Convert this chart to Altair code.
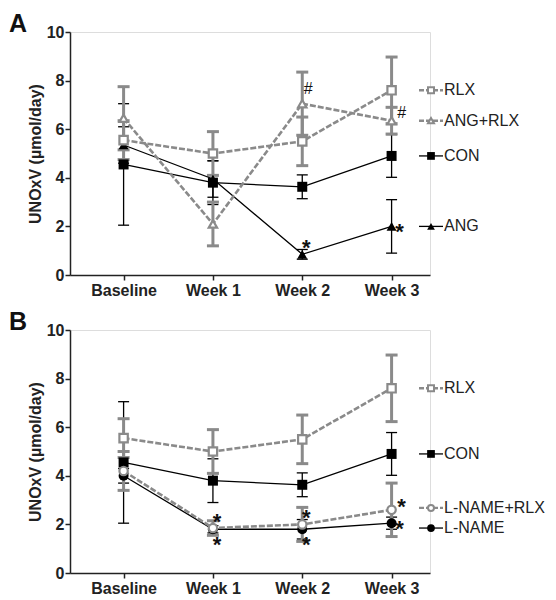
import altair as alt
import pandas as pd

# ---------------- data ----------------
WEEKS = ["Baseline", "Week 1", "Week 2", "Week 3"]

RLX_MEAN = [5.55, 5.0, 5.5, 7.6]
RLX_SEM = [0.8, 0.9, 1.0, 1.37]
ANG_RLX_MEAN = [6.45, 2.1, 7.05, 6.35]
ANG_RLX_SEM = [1.3, 0.9, 1.3, 0.55]
CON_MEAN = [4.55, 3.8, 3.63, 4.9]
CON_SEM = [2.5, 0.9, 0.49, 0.88]
ANG_MEAN = [5.35, 3.95, 0.85, 2.0]
ANG_SEM = [0.75, 0.75, 0.2, 1.1]
LNAME_RLX_MEAN = [4.2, 1.85, 2.0, 2.6]
LNAME_RLX_SEM = [0.8, 0.3, 0.7, 1.1]
LNAME_MEAN = [4.0, 1.8, 1.8, 2.05]
LNAME_SEM = [0.3, 0.15, 0.4, 0.25]

SERIES_VALUES = {
    "RLX": (RLX_MEAN, RLX_SEM),
    "ANG+RLX": (ANG_RLX_MEAN, ANG_RLX_SEM),
    "CON": (CON_MEAN, CON_SEM),
    "ANG": (ANG_MEAN, ANG_SEM),
    "L-NAME+RLX": (LNAME_RLX_MEAN, LNAME_RLX_SEM),
    "L-NAME": (LNAME_MEAN, LNAME_SEM),
}

PANEL_A_SERIES = ["RLX", "ANG+RLX", "CON", "ANG"]
PANEL_B_SERIES = ["RLX", "CON", "L-NAME+RLX", "L-NAME"]

# (series, week, symbol, placement)
ANNOT_A = [("ANG+RLX", "Week 2", "#", "above_far"), ("ANG+RLX", "Week 3", "#", "right_up"),
           ("ANG", "Week 2", "*", "above"), ("ANG", "Week 3", "*", "right")]
ANNOT_B = [("L-NAME+RLX", "Week 1", "*", "above"), ("L-NAME", "Week 1", "*", "below"),
           ("L-NAME+RLX", "Week 2", "*", "above"), ("L-NAME", "Week 2", "*", "below"),
           ("L-NAME+RLX", "Week 3", "*", "right_up"), ("L-NAME", "Week 3", "*", "right")]

# ---------------- styles ----------------
GRAY = "#8a8a8a"
FONT = "Liberation Sans"
GROUP = {"RLX": "gray", "ANG+RLX": "gray", "L-NAME+RLX": "gray",
         "CON": "black", "ANG": "black", "L-NAME": "black"}
SHAPE = {"RLX": "square", "ANG+RLX": "triangle-up", "L-NAME+RLX": "circle",
         "CON": "square", "ANG": "triangle-up", "L-NAME": "circle"}
LEGEND_NUDGE = {"L-NAME+RLX": 0.08, "L-NAME": -0.2}
PLACE_OFFSETS = {"above": (4, -12), "above_far": (6, -16), "right": (8, 0),
                 "right_up": (10, -9), "below": (4, 10)}
# font size, weight, glyph-centre compensation
SYMBOL_STYLE = {"*": (22, "bold", 6), "#": (16, "normal", 1)}

ALL = list(SERIES_VALUES.keys())
shape_scale = alt.Scale(domain=ALL, range=[SHAPE[s] for s in ALL])

W, H = 360, 243


def panel(letter, series_list, annots):
    rows = []
    for s in series_list:
        m, e = SERIES_VALUES[s]
        for i, w in enumerate(WEEKS):
            rows.append({"series": s, "group": GROUP[s], "xi": i, "week": w,
                         "mean": m[i], "lo": m[i] - e[i], "hi": m[i] + e[i]})
    df = pd.DataFrame(rows)

    leg = pd.DataFrame([{"series": s, "group": GROUP[s],
                         "ly": SERIES_VALUES[s][0][-1] + LEGEND_NUDGE.get(s, 0.0)}
                        for s in series_list])

    ann = pd.DataFrame([{"series": s, "xi": WEEKS.index(w), "sym": t, "place": p,
                         "mean": SERIES_VALUES[s][0][WEEKS.index(w)]}
                        for s, w, t, p in annots])

    label_expr = "[" + ",".join("'%s'" % w for w in WEEKS) + "][datum.value]"
    xaxis = alt.Axis(values=[0, 1, 2, 3], labelExpr=label_expr, title=None,
                     grid=False, tickSize=5, labelPadding=2, labelFontSize=16,
                     labelFontWeight="bold", labelColor="#222", domainColor="#222",
                     tickColor="#222", domainWidth=1.5, tickWidth=1.5,
                     labelFont=FONT)
    yaxis = alt.Axis(values=[0, 2, 4, 6, 8, 10], title="UNOxV (µmol/day)",
                     grid=False, tickSize=5, labelPadding=1, labelFontSize=16,
                     labelFontWeight="bold", titleFontSize=16, titleFontWeight="bold",
                     titlePadding=3, labelColor="#222", titleColor="#222",
                     domainColor="#222", tickColor="#222", domainWidth=1.5,
                     tickWidth=1.5, labelFont=FONT, titleFont=FONT)
    xscale = alt.Scale(domain=[-0.6, 3.43], nice=False, zero=False)
    yscale = alt.Scale(domain=[0, 10], nice=False)
    xn = alt.X("xi:Q", scale=xscale)
    base = alt.Chart(df)
    gray = base.transform_filter("datum.group == 'gray'")
    black = base.transform_filter("datum.group == 'black'")

    layers = []
    # error bars (first layer carries the axes)
    layers.append(black.mark_rule(color="black", strokeWidth=1.3).encode(
        x=alt.X("xi:Q", scale=xscale, axis=xaxis),
        y=alt.Y("lo:Q", scale=yscale, axis=yaxis), y2="hi:Q"))
    layers.append(black.transform_fold(["lo", "hi"], as_=["end", "val"]).mark_tick(
        orient="horizontal", color="black", size=11, thickness=1.3, opacity=1).encode(
        x=xn, y=alt.Y("val:Q", scale=yscale)))
    layers.append(gray.mark_rule(color=GRAY, strokeWidth=3).encode(
        x=xn, y=alt.Y("lo:Q", scale=yscale), y2="hi:Q"))
    layers.append(gray.transform_fold(["lo", "hi"], as_=["end", "val"]).mark_tick(
        orient="horizontal", color=GRAY, size=12, thickness=3, opacity=1).encode(
        x=xn, y=alt.Y("val:Q", scale=yscale)))
    # lines
    layers.append(black.mark_line(color="black", strokeWidth=1.3).encode(
        x=xn, y=alt.Y("mean:Q", scale=yscale), detail="series:N", order="xi:Q"))
    layers.append(gray.mark_line(color=GRAY, strokeWidth=2.6, strokeDash=[6, 2]).encode(
        x=xn, y=alt.Y("mean:Q", scale=yscale), detail="series:N", order="xi:Q"))
    # points
    layers.append(black.mark_point(filled=True, color="black", size=100, opacity=1).encode(
        x=xn, y=alt.Y("mean:Q", scale=yscale),
        shape=alt.Shape("series:N", scale=shape_scale, legend=None)))
    layers.append(gray.mark_point(fill="white", fillOpacity=1, stroke=GRAY, strokeWidth=2.2,
                                  size=70, opacity=1).encode(
        x=xn, y=alt.Y("mean:Q", scale=yscale),
        shape=alt.Shape("series:N", scale=shape_scale, legend=None)))

    # legend drawn next to the last value of each series
    lb = alt.Chart(leg)
    lgray = lb.transform_filter("datum.group == 'gray'")
    lblack = lb.transform_filter("datum.group == 'black'")
    layers.append(lblack.mark_rule(color="black", strokeWidth=1.3).encode(
        x=alt.value(349), x2=alt.value(373), y=alt.Y("ly:Q", scale=yscale)))
    layers.append(lgray.mark_rule(color=GRAY, strokeWidth=2.4, strokeDash=[5, 2]).encode(
        x=alt.value(349), x2=alt.value(373), y=alt.Y("ly:Q", scale=yscale)))
    layers.append(lblack.mark_point(filled=True, color="black", size=60, opacity=1).encode(
        x=alt.value(361), y=alt.Y("ly:Q", scale=yscale),
        shape=alt.Shape("series:N", scale=shape_scale, legend=None)))
    layers.append(lgray.mark_point(fill="white", fillOpacity=1, stroke=GRAY, strokeWidth=2,
                                   size=36, opacity=1).encode(
        x=alt.value(361), y=alt.Y("ly:Q", scale=yscale),
        shape=alt.Shape("series:N", scale=shape_scale, legend=None)))
    layers.append(lb.mark_text(align="left", baseline="middle", fontSize=16, font=FONT,
                               color="#222").encode(
        x=alt.value(374), y=alt.Y("ly:Q", scale=yscale), text="series:N"))

    # significance marks
    ab = alt.Chart(ann)
    for p, (dx, dy) in PLACE_OFFSETS.items():
        for sym, (fs, fw, comp) in SYMBOL_STYLE.items():
            sub = ab.transform_filter("datum.place == '%s' && datum.sym == '%s'" % (p, sym))
            layers.append(sub.mark_text(
                align="center", baseline="middle", fontSize=fs, fontWeight=fw, font=FONT,
                color="#111", dx=dx, dy=dy + comp).encode(
                x=xn, y=alt.Y("mean:Q", scale=yscale), text="sym:N"))

    # panel letter
    layers.append(alt.Chart(pd.DataFrame({"t": [letter]})).mark_text(
        align="left", baseline="alphabetic", fontSize=25, fontWeight="bold", font=FONT,
        color="#111").encode(x=alt.value(-61), y=alt.value(0), text="t:N"))

    return alt.layer(*layers).properties(width=W, height=H)


chart = alt.vconcat(panel("A", PANEL_A_SERIES, ANNOT_A),
                    panel("B", PANEL_B_SERIES, ANNOT_B),
                    spacing=10).properties(
    padding={"left": 0, "top": 3, "right": 0, "bottom": 0}
).configure_view(stroke=None).configure(font=FONT)

chart.save("out.html", embed_options={"renderer": "svg", "actions": False})
